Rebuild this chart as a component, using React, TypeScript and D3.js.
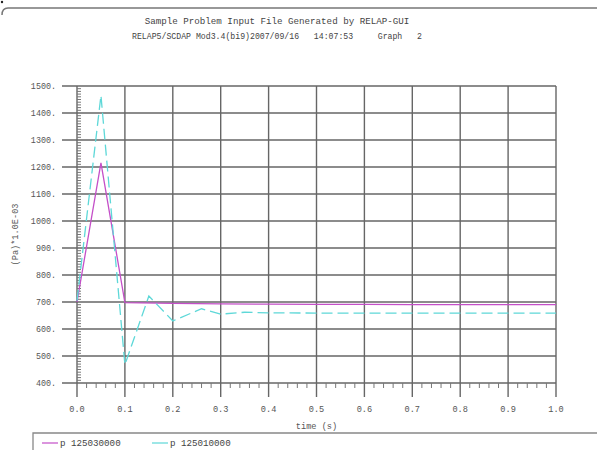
import React, { useEffect, useRef } from 'react';
import * as d3 from 'd3';

// series (time in s, pressure in kPa)
const timeP030 = [0.0, 0.05, 0.1, 0.2, 0.3, 0.4, 0.5, 0.6, 0.7, 0.8, 0.9, 1.0];
const valP030 = [700, 1215, 698, 695, 693, 692, 691, 691, 690, 690, 690, 690];

const timeP010 = [0.0, 0.05, 0.1, 0.15, 0.2, 0.26, 0.3, 0.35, 0.4, 0.5, 0.6, 0.7, 0.8, 0.9, 1.0];
const valP010 = [705, 1465, 468, 722, 630, 675, 655, 662, 660, 659, 659, 659, 659, 659, 659];

const xTicks = [0.0, 0.1, 0.2, 0.3, 0.4, 0.5, 0.6, 0.7, 0.8, 0.9, 1.0];
const yTicks = [400, 500, 600, 700, 800, 900, 1000, 1100, 1200, 1300, 1400, 1500];

const seriesNames = ['p 125030000', 'p 125010000'];
const seriesColors = ['#c44fc8', '#5ed8d8'];

const FONT = '"Liberation Mono", "DejaVu Sans Mono", monospace';

const App = () => {
  const svgRef = useRef<SVGSVGElement | null>(null);

  useEffect(() => {
    if (!svgRef.current) return;
    const svg = d3.select(svgRef.current);
    svg.selectAll('*').remove();

    const left = 77, right = 556, top = 86, bottom = 383;

    const x = d3.scaleLinear().domain([0, 1]).range([left, right]);
    const y = d3.scaleLinear().domain([400, 1500]).range([bottom, top]);

    // page frame
    svg.append('path')
      .attr('d', 'M2,15 Q2,8 8,8 L597,8')
      .attr('fill', 'none')
      .attr('stroke', '#777')
      .attr('stroke-width', 1.5);
    svg.append('circle').attr('cx', 2).attr('cy', 2).attr('r', 1.2).attr('fill', '#222');

    // titles
    svg.append('text')
      .attr('x', 277).attr('y', 24)
      .attr('text-anchor', 'middle')
      .attr('font-family', FONT).attr('font-size', 9.2)
      .attr('fill', '#444')
      .text('Sample Problem Input File Generated by RELAP-GUI');
    svg.append('text')
      .attr('x', 277).attr('y', 39)
      .attr('text-anchor', 'middle')
      .attr('font-family', FONT).attr('font-size', 8.2)
      .attr('fill', '#444')
      .attr('xml:space', 'preserve')
      .style('white-space', 'pre')
      .text('RELAP5/SCDAP Mod3.4(bi9)2007/09/16   14:07:53     Graph   2');

    const grid = svg.append('g').attr('stroke', '#666').attr('stroke-width', 1.4);

    // horizontal grid lines (extend left of axis as major ticks)
    grid.selectAll('line.h')
      .data(yTicks)
      .join('line')
      .attr('class', 'h')
      .attr('x1', left - 15).attr('x2', right)
      .attr('y1', d => y(d)).attr('y2', d => y(d));

    // vertical grid lines (extend below axis as major ticks)
    grid.selectAll('line.v')
      .data(xTicks)
      .join('line')
      .attr('class', 'v')
      .attr('x1', d => x(d)).attr('x2', d => x(d))
      .attr('y1', top).attr('y2', bottom + 14);

    // minor ticks
    const yMinor = d3.range(400, 1500, 10).filter(v => v % 100 !== 0);
    svg.append('g').attr('stroke', '#777').attr('stroke-width', 1)
      .selectAll('line')
      .data(yMinor)
      .join('line')
      .attr('x1', left).attr('x2', left + 4)
      .attr('y1', d => y(d)).attr('y2', d => y(d));

    const xMinor = d3.range(0, 50).map(i => i * 0.02).filter((_, i) => i % 5 !== 0);
    svg.append('g').attr('stroke', '#777').attr('stroke-width', 1)
      .selectAll('line')
      .data(xMinor)
      .join('line')
      .attr('x1', d => x(d)).attr('x2', d => x(d))
      .attr('y1', bottom).attr('y2', bottom + 5);

    // tick labels
    svg.append('g')
      .selectAll('text')
      .data(yTicks)
      .join('text')
      .attr('x', left - 21).attr('y', d => y(d) + 3)
      .attr('text-anchor', 'end')
      .attr('font-family', FONT).attr('font-size', 8.4)
      .attr('fill', '#555')
      .text(d => `${d}.`);

    svg.append('g')
      .selectAll('text')
      .data(xTicks)
      .join('text')
      .attr('x', d => x(d)).attr('y', bottom + 29)
      .attr('text-anchor', 'middle')
      .attr('font-family', FONT).attr('font-size', 8.6)
      .attr('fill', '#555')
      .text(d => d3.format('.1f')(d));

    // axis titles
    svg.append('text')
      .attr('x', (left + right) / 2).attr('y', bottom + 46)
      .attr('text-anchor', 'middle')
      .attr('font-family', FONT).attr('font-size', 8.6)
      .attr('fill', '#555')
      .text('time (s)');
    svg.append('text')
      .attr('transform', `translate(18,${(top + bottom) / 2}) rotate(-90)`)
      .attr('text-anchor', 'middle')
      .attr('font-family', FONT).attr('font-size', 8.6)
      .attr('fill', '#555')
      .text('(Pa)*1.0E-03');

    // series
    const line = d3.line<[number, number]>()
      .x(d => x(d[0]))
      .y(d => y(d[1]));

    svg.append('path')
      .datum(timeP030.map((t, i) => [t, valP030[i]] as [number, number]))
      .attr('d', line)
      .attr('fill', 'none')
      .attr('stroke', seriesColors[0])
      .attr('stroke-width', 1.3);

    svg.append('path')
      .datum(timeP010.map((t, i) => [t, valP010[i]] as [number, number]))
      .attr('d', line)
      .attr('fill', 'none')
      .attr('stroke', seriesColors[1])
      .attr('stroke-width', 1.3)
      .attr('stroke-dasharray', '11,5');

    // legend
    svg.append('path')
      .attr('d', 'M33,450 L33,433 L597,433')
      .attr('fill', 'none')
      .attr('stroke', '#888')
      .attr('stroke-width', 1.3);

    const legendX = [42, 152];
    seriesNames.forEach((name, i) => {
      const g = svg.append('g');
      g.append('line')
        .attr('x1', legendX[i]).attr('x2', legendX[i] + 16)
        .attr('y1', 443).attr('y2', 443)
        .attr('stroke', seriesColors[i])
        .attr('stroke-width', 1.2);
      g.append('text')
        .attr('x', legendX[i] + 18).attr('y', 446)
        .attr('font-family', FONT).attr('font-size', 9.2)
        .attr('fill', '#444')
        .text(name);
    });
  }, []);

  return (
    <svg
      ref={svgRef}
      width={597}
      height={450}
      style={{ position: 'fixed', left: 0, top: 0, display: 'block', background: '#fff' }}
    />
  );
};

export default App;
